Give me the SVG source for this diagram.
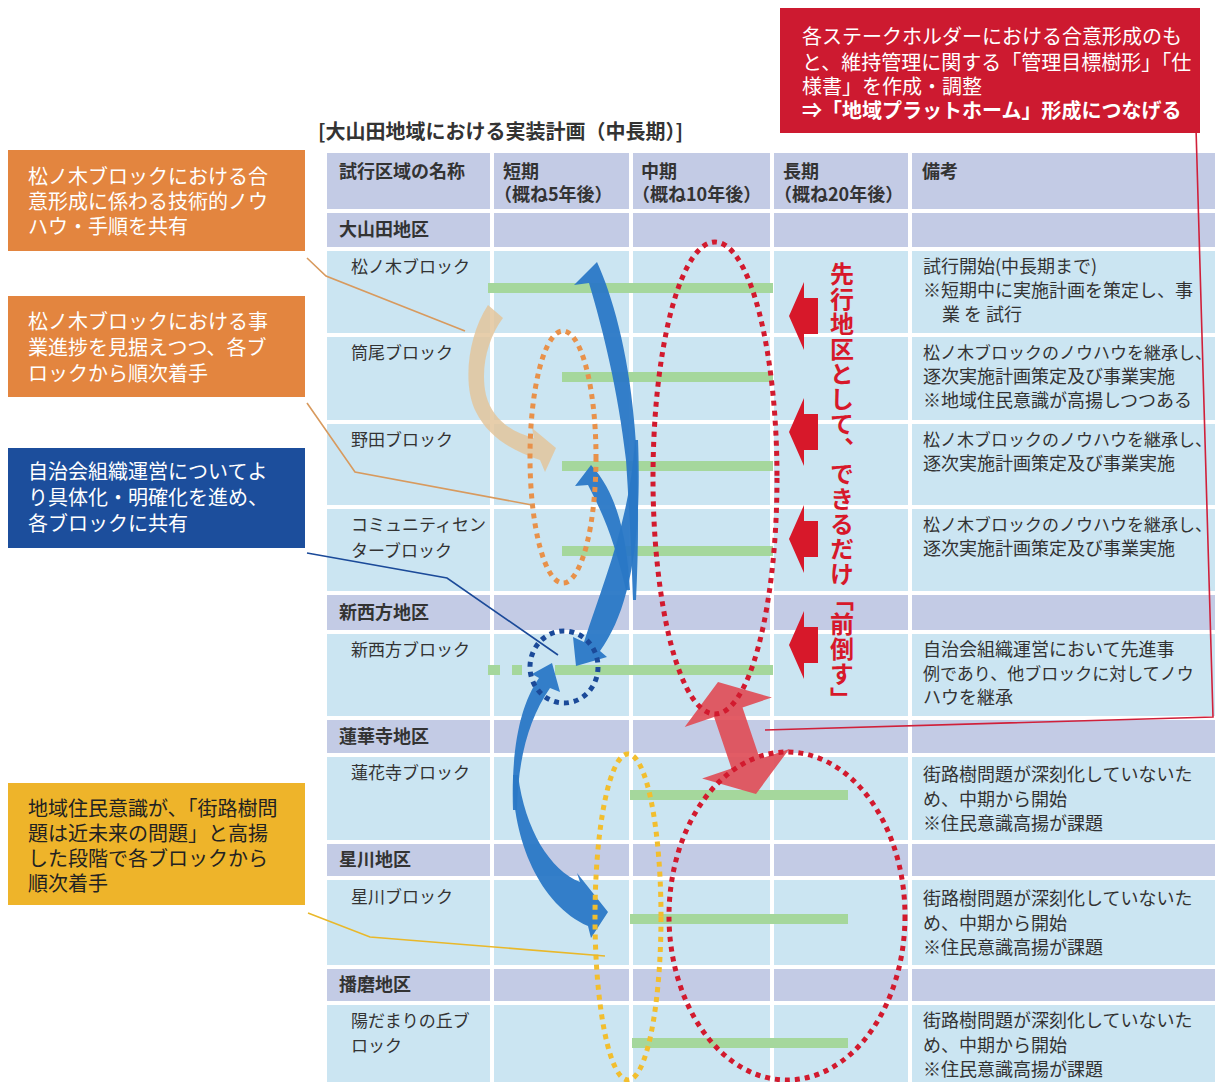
<svg xmlns="http://www.w3.org/2000/svg" width="1215" height="1082" viewBox="0 0 1215 1082">
<style>
text{font-family:"Noto Sans CJK JP","Noto Sans",sans-serif}
.bx{font-size:20px;fill:#fff}
.bxd{font-size:20px;fill:#222}
.h{font-size:18px;font-weight:bold;fill:#333}
.n{font-size:17px;fill:#333}
.m{font-size:18px;fill:#333}
.lav{fill:#C3CBE5}
.sky{fill:#CBE5F2}
.grn{fill:#A5D79C}
.dot{fill:none;stroke-width:5;stroke-dasharray:5 5}
.blu{fill:#2A78C6;opacity:0.95}
.rarr{fill:#D7182A}
.ln{fill:none;stroke-width:1.6}
</style>
<rect width="1215" height="1082" fill="#fff"/>

<g id="table">
<rect class="lav" x="327" y="153" width="888" height="56"/>
<rect class="lav" x="327" y="213" width="888" height="34"/>
<rect class="sky" x="327" y="251" width="888" height="82"/>
<rect class="sky" x="327" y="337" width="888" height="83"/>
<rect class="sky" x="327" y="424" width="888" height="81"/>
<rect class="sky" x="327" y="509" width="888" height="82"/>
<rect class="lav" x="327" y="595" width="888" height="35"/>
<rect class="sky" x="327" y="634" width="888" height="82"/>
<rect class="lav" x="327" y="720" width="888" height="33"/>
<rect class="sky" x="327" y="757" width="888" height="83"/>
<rect class="lav" x="327" y="844" width="888" height="32"/>
<rect class="sky" x="327" y="880" width="888" height="85"/>
<rect class="lav" x="327" y="969" width="888" height="32"/>
<rect class="sky" x="327" y="1005" width="888" height="77"/>
<g stroke="#fff" stroke-width="4">
<line x1="492" y1="150" x2="492" y2="1082"/>
<line x1="631" y1="150" x2="631" y2="1082"/>
<line x1="772" y1="150" x2="772" y2="1082"/>
<line x1="910" y1="150" x2="910" y2="1082"/>
</g>
</g>

<g id="bars">
<rect class="grn" x="488" y="283" width="285" height="10"/>
<rect class="grn" x="562" y="372" width="211" height="10"/>
<rect class="grn" x="562" y="461" width="211" height="10"/>
<rect class="grn" x="562" y="546" width="211" height="10"/>
<rect class="grn" x="488" y="665" width="12" height="10"/>
<rect class="grn" x="512" y="665" width="10" height="10"/>
<rect class="grn" x="555" y="665" width="218" height="10"/>
<rect class="grn" x="630" y="790" width="218" height="10"/>
<rect class="grn" x="630" y="914" width="218" height="10"/>
<rect class="grn" x="632" y="1038" width="216" height="10"/>
</g>

<g id="connectors">
<g id="red-push-arrows">
<path class="rarr" d="M789,316 L804,282 L804,298 L818,298 L818,334 L804,334 L804,350 Z"/>
<path class="rarr" d="M789,432 L804,398 L804,414 L818,414 L818,450 L804,450 L804,466 Z"/>
<path class="rarr" d="M789,539 L804,505 L804,521 L818,521 L818,557 L804,557 L804,573 Z"/>
<path class="rarr" d="M789,645 L804,611 L804,627 L818,627 L818,663 L804,663 L804,679 Z"/>
</g>
<path id="tan-arrow" d="M488,305 C468,335 462,385 476,412 C488,436 510,450 540,460 L545,472 L556,448 L532,428 L534,438 C510,432 492,418 486,395 C480,368 488,338 503,318 Z" fill="#E3C59C" opacity="0.85"/>
<path id="blue-arrow-a" class="blu" d="M597,262 L574,285 L589,283 C603,330 618,390 626,460 C630,520 632,570 633,600 L636,600 C639,540 639,470 634,420 C628,350 612,295 597,262 Z"/>
<path id="blue-arrow-c" class="blu" d="M591,465 L575,486 L588,485 C598,505 612,530 626,590 L630,590 C628,560 624,500 591,465 Z"/>
<path id="blue-arrow-b" class="blu" d="M635,440 C630,520 604,580 584,642 L573,637 L576,666 L607,657 L600,651 C630,610 642,540 638,440 Z"/>
<path id="blue-arrow-d" class="blu" d="M552,663 L532,674 L539,678 C520,705 511,750 513,810 L517,810 C518,760 528,720 550,688 L560,692 Z"/>
<path id="blue-arrow-e" class="blu" d="M513,775 C512,840 540,905 588,926 L591,938 L608,912 L577,873 L580,882 C550,870 525,830 518,775 Z"/>
<path id="red-double-arrow" d="M718,682 L771.9,697.5 L742.5,707.5 L759.9,758.9 L789.3,748.9 L756,794 L702.1,778.5 L731.5,768.5 L714.1,717.1 L684.7,727.1 Z" fill="#DF4E58" opacity="0.92"/>

<ellipse class="dot" cx="715" cy="478" rx="62" ry="236" stroke="#D21A2E"/>
<ellipse class="dot" cx="787" cy="916" rx="118" ry="164" stroke="#D21A2E"/>
<ellipse class="dot" cx="628" cy="917" rx="33" ry="163" stroke="#F2BE2E"/>
<ellipse class="dot" cx="563" cy="457" rx="33" ry="126" stroke="#E8914A"/>
<ellipse class="dot" cx="564" cy="667" rx="34" ry="36" stroke="#1B4A99"/>

<polyline class="ln" points="307,258 326,276 465,331" stroke="#D89A5E"/>
<polyline class="ln" points="307,403 355,472 532,505" stroke="#D89A5E"/>
<polyline class="ln" points="307,553 447,578 558,655" stroke="#1B4A99" stroke-width="2"/>
<polyline class="ln" points="308,913 370,937 605,956" stroke="#E9B82A"/>
<polyline class="ln" points="1196,128 1213,717 765,730" stroke="#D0203A"/>
</g>

<g id="table-text">
<text class="h" x="339" y="178">試行区域の名称</text>
<text class="h" x="503" y="178">短期</text>
<text class="h" x="494" y="201">（概ね5年後）</text>
<text class="h" x="641" y="178">中期</text>
<text class="h" x="632" y="201">（概ね10年後）</text>
<text class="h" x="783" y="178">長期</text>
<text class="h" x="774" y="201">（概ね20年後）</text>
<text class="h" x="922" y="178">備考</text>

<text class="h" x="339" y="236">大山田地区</text>
<text class="n" x="351" y="273">松ノ木ブロック</text>
<text class="n" x="351" y="359">筒尾ブロック</text>
<text class="n" x="351" y="446">野田ブロック</text>
<text class="n" x="351" y="531">コミュニティセン</text>
<text class="n" x="351" y="557">ターブロック</text>
<text class="h" x="339" y="619">新西方地区</text>
<text class="n" x="351" y="656">新西方ブロック</text>
<text class="h" x="339" y="743">蓮華寺地区</text>
<text class="n" x="351" y="779">蓮花寺ブロック</text>
<text class="h" x="339" y="866">星川地区</text>
<text class="n" x="351" y="903">星川ブロック</text>
<text class="h" x="339" y="991">播磨地区</text>
<text class="n" x="351" y="1027">陽だまりの丘ブ</text>
<text class="n" x="351" y="1052">ロック</text>

<text class="m" x="923" y="273">試行開始(中長期まで)</text>
<text class="m" x="923" y="297">※短期中に実施計画を策定し、事</text>
<text class="m" x="942" y="321">業 を 試行</text>
<text class="n" x="923" y="359">松ノ木ブロックのノウハウを継承し、</text>
<text class="m" x="923" y="383">逐次実施計画策定及び事業実施</text>
<text class="m" x="923" y="407">※地域住民意識が高揚しつつある</text>
<text class="n" x="923" y="446">松ノ木ブロックのノウハウを継承し、</text>
<text class="m" x="923" y="470">逐次実施計画策定及び事業実施</text>
<text class="n" x="923" y="531">松ノ木ブロックのノウハウを継承し、</text>
<text class="m" x="923" y="555">逐次実施計画策定及び事業実施</text>
<text class="m" x="923" y="656">自治会組織運営において先進事</text>
<text class="n" x="923" y="680">例であり、他ブロックに対してノウ</text>
<text class="m" x="923" y="704">ハウを継承</text>
<text class="m" x="923" y="781">街路樹問題が深刻化していないた</text>
<text class="m" x="923" y="806">め、中期から開始</text>
<text class="m" x="923" y="830">※住民意識高揚が課題</text>
<text class="m" x="923" y="905">街路樹問題が深刻化していないた</text>
<text class="m" x="923" y="930">め、中期から開始</text>
<text class="m" x="923" y="954">※住民意識高揚が課題</text>
<text class="m" x="923" y="1027">街路樹問題が深刻化していないた</text>
<text class="m" x="923" y="1052">め、中期から開始</text>
<text class="m" x="923" y="1076">※住民意識高揚が課題</text>
</g>

<text id="vertical-label" x="842" y="262 287 312 337 362 387 412 437 462 487 512 537 562 587 612 637 662 687" style="writing-mode:vertical-rl" font-size="24" font-weight="bold" fill="#D7182A">先行地区として、できるだけ「前倒す」</text>

<text id="title" x="318" y="139" font-size="20" font-weight="bold" fill="#333">[大山田地域における実装計画（中長期）]</text>

<g id="box-red">
<rect x="780" y="8" width="420" height="125" fill="#CD1A30"/>
<text class="bx" x="802" y="44">各ステークホルダーにおける合意形成のも</text>
<text class="bx" x="802" y="70">と、維持管理に関する「管理目標樹形」「仕</text>
<text class="bx" x="802" y="94">様書」を作成・調整</text>
<text class="bx" x="802" y="118" font-weight="bold">⇒「地域プラットホーム」形成につなげる</text>
</g>

<g id="box-orange-1">
<rect x="8" y="150" width="297" height="101" fill="#E3853F"/>
<text class="bx" x="28" y="184">松ノ木ブロックにおける合</text>
<text class="bx" x="28" y="209">意形成に係わる技術的ノウ</text>
<text class="bx" x="28" y="234">ハウ・手順を共有</text>
</g>
<g id="box-orange-2">
<rect x="8" y="296" width="297" height="101" fill="#E3853F"/>
<text class="bx" x="28" y="329">松ノ木ブロックにおける事</text>
<text class="bx" x="28" y="355">業進捗を見据えつつ、各ブ</text>
<text class="bx" x="28" y="381">ロックから順次着手</text>
</g>
<g id="box-blue">
<rect x="8" y="448" width="297" height="100" fill="#1C4E9C"/>
<text class="bx" x="28" y="479">自治会組織運営についてよ</text>
<text class="bx" x="28" y="505">り具体化・明確化を進め、</text>
<text class="bx" x="28" y="531">各ブロックに共有</text>
</g>
<g id="box-yellow">
<rect x="8" y="783" width="297" height="122" fill="#EEB42A"/>
<text class="bxd" x="28" y="816">地域住民意識が、「街路樹問</text>
<text class="bxd" x="28" y="841">題は近未来の問題」と高揚</text>
<text class="bxd" x="28" y="866">した段階で各ブロックから</text>
<text class="bxd" x="28" y="891">順次着手</text>
</g>
</svg>
